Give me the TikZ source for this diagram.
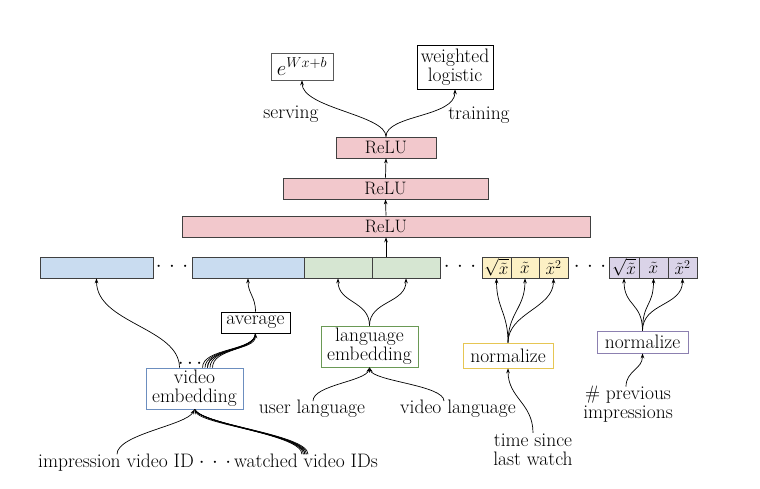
\documentclass[tikz,border=0pt]{standalone}
\usetikzlibrary{arrows.meta}
\definecolor{bluefill}{HTML}{C9DCF0}
\definecolor{greenfill}{HTML}{D6E6D2}
\definecolor{yellowfill}{HTML}{FCF0C4}
\definecolor{purplefill}{HTML}{DAD3E8}
\definecolor{pinkfill}{HTML}{F2C8CC}
\definecolor{blueline}{HTML}{6C8EBF}
\definecolor{greenline}{HTML}{6A9955}
\definecolor{yellowline}{HTML}{E6C653}
\definecolor{purpleline}{HTML}{8C80B0}
\newcommand\tdots{\ensuremath{\cdot}\hspace{7.5pt}\ensuremath{\cdot}\hspace{7.5pt}\ensuremath{\cdot}}
\begin{document}
\begin{tikzpicture}[x=1pt,y=-1pt,
  every node/.style={font=\fontsize{19.5}{19}\selectfont},
  cell/.style={draw=black!75, line width=0.7pt, minimum height=21pt, inner sep=0pt, font=\fontsize{17}{18}\selectfont},
  relu/.style={cell, fill=pinkfill, font=\fontsize{18}{18}\selectfont},
  box/.style={draw, line width=0.7pt, inner sep=1pt, align=center},
  txt/.style={inner sep=1pt, align=center},
  arr/.style={-{Stealth[length=5pt,width=3.6pt]}, line width=0.7pt},
  ln/.style={line width=0.7pt}]
\useasboundingbox (0,0) rectangle (760,488);

% feature row
\node[cell, fill=bluefill, minimum width=113pt] (b1) at (96.5,267.5) {};
\node[anchor=base] (d1) at (172,271.8) {\tdots};
\node[cell, fill=bluefill, minimum width=112pt] (b2) at (248,267.5) {};
\node[cell, fill=greenfill, minimum width=68pt] (g1) at (338,267.5) {};
\node[cell, fill=greenfill, minimum width=68pt] (g2) at (406,267.5) {};
\node[anchor=base] (d2) at (460,271.8) {\tdots};
\node[cell, fill=yellowfill, minimum width=29pt] (y1) at (496.5,267.5) {$\sqrt{\tilde x}$};
\node[cell, fill=yellowfill, minimum width=28pt] (y2) at (525,267.5) {$\tilde x$};
\node[cell, fill=yellowfill, minimum width=29pt] (y3) at (553.5,267.5) {$\tilde x^2$};
\node[anchor=base] (d3) at (590,271.8) {\tdots};
\node[cell, fill=purplefill, minimum width=30pt] (p1) at (624,267.5) {$\sqrt{\tilde x}$};
\node[cell, fill=purplefill, minimum width=29pt] (p2) at (653.5,267.5) {$\tilde x$};
\node[cell, fill=purplefill, minimum width=29pt] (p3) at (682.5,267.5) {$\tilde x^2$};

% ReLU stack
\node[relu, minimum width=408pt] (r1) at (386,226.5) {ReLU};
\node[relu, minimum width=205pt] (r2) at (385.5,188.5) {ReLU};
\node[relu, minimum width=100pt] (r3) at (386,147.5) {ReLU};

% outputs
\node[box, draw=black!65, minimum width=62pt, minimum height=27pt] (ex) at (302,66.5) {$e^{Wx+b}$};
\node[box, minimum width=76pt, minimum height=44pt] (wl) at (455,67) {weighted\\logistic};
\node[txt] (serv) at (291,114) {serving};
\node[txt] (train) at (479,115) {training};

% middle boxes
\node[box, minimum width=69pt, minimum height=21pt] (avg) at (255.5,322.5) {average};
\node[box, draw=blueline, minimum width=97pt, minimum height=41pt] (vemb) at (194.5,388.5) {video\\embedding};
\node[anchor=base, inner sep=0pt] (vdots) at (190,368.5) {$\cdots$};
\node[box, draw=greenline, minimum width=97pt, minimum height=41pt] (lemb) at (369.5,346.5) {language\\embedding};
\node[box, draw=yellowline, minimum width=90pt, minimum height=25pt] (ny) at (508,355.5) {normalize};
\node[box, draw=purpleline, minimum width=91pt, minimum height=22pt] (np) at (642.5,342) {normalize};

% inputs
\node[txt] (ul) at (312,409) {user language};
\node[txt] (vl) at (458,409) {video language};
\node[txt] (tsl) at (533,450) {time since\\last watch};
\node[txt] (prev) at (628,404) {\# previous\\impressions};
\node[txt, anchor=base] (imp) at (116,467) {impression video ID};
\node[anchor=base] (d4) at (215,467) {\tdots};
\node[txt, anchor=base] (wat) at (306,467) {watched video IDs};

% connectors: upper stack
\draw[arr] (r1.south |- g2.north) -- (r1.south);
\draw[arr] (r1.north) -- (r2.south);
\draw[arr] (r2.north) -- (r3.south);
\draw[arr] (r3.north) .. controls ([yshift=22]r3.north) and ([yshift=-28]ex.south) .. (ex.south);
\draw[arr] (r3.north) .. controls ([yshift=22]r3.north) and ([yshift=-28]wl.south) .. (wl.south);

% video embedding
\draw[arr] ([xshift=-15]vemb.north) .. controls ([xshift=-15,yshift=40]vemb.north) and ([yshift=-45]b1.south) .. (b1.south);
\foreach \s in {8,10.5,13,15.5,18}{
  \draw[ln] ([xshift=\s]vemb.north) .. controls ([xshift=\s,yshift=20]vemb.north) and ([yshift=-18]avg.south) .. (avg.south);
}
\draw[arr] ([xshift=13]vemb.north) .. controls ([xshift=13,yshift=20]vemb.north) and ([yshift=-18]avg.south) .. (avg.south);
\draw[arr] (avg.north) .. controls ([yshift=15]avg.north) and ([yshift=-15]b2.south) .. (b2.south);

% language
\draw[arr] (lemb.north) .. controls ([yshift=25]lemb.north) and ([yshift=-25]g1.south) .. (g1.south);
\draw[arr] (lemb.north) .. controls ([yshift=25]lemb.north) and ([yshift=-25]g2.south) .. (g2.south);
\draw[arr] ([xshift=1,yshift=-2]ul.north) .. controls ([xshift=1,yshift=14]ul.north) and ([xshift=-4,yshift=-14]lemb.south) .. (lemb.south);
\draw[arr] ([xshift=-14,yshift=-2]vl.north) .. controls ([xshift=-14,yshift=14]vl.north) and ([xshift=4,yshift=-14]lemb.south) .. (lemb.south);

% normalize yellow
\draw[arr] (ny.north) .. controls ([yshift=30]ny.north) and ([yshift=-30]y1.south) .. (y1.south);
\draw[arr] (ny.north) .. controls ([yshift=30]ny.north) and ([yshift=-30]y2.south) .. (y2.south);
\draw[arr] (ny.north) .. controls ([yshift=30]ny.north) and ([yshift=-30]y3.south) .. (y3.south);
\draw[arr] (tsl.north) .. controls ([yshift=30]tsl.north) and ([yshift=-30]ny.south) .. (ny.south);

% normalize purple
\draw[arr] (np.north) .. controls ([yshift=28]np.north) and ([yshift=-28]p1.south) .. (p1.south);
\draw[arr] (np.north) .. controls ([yshift=28]np.north) and ([yshift=-28]p2.south) .. (p2.south);
\draw[arr] (np.north) .. controls ([yshift=28]np.north) and ([yshift=-28]p3.south) .. (p3.south);
\draw[arr] ([xshift=-2,yshift=-2]prev.north) .. controls ([xshift=-2,yshift=14]prev.north) and ([yshift=-16]np.south) .. (np.south);

% bottom inputs to video embedding
\draw[arr] ([xshift=1,yshift=-2]imp.north) .. controls ([xshift=1,yshift=18]imp.north) and ([xshift=-8,yshift=-16]vemb.south) .. (vemb.south);
\foreach \s in {-4,-2.5,-1,0.5,2}{
  \draw[ln] ([xshift=\s,yshift=-2]wat.north) .. controls ([xshift=\s,yshift=18]wat.north) and ([xshift=8,yshift=-16]vemb.south) .. (vemb.south);
}
\draw[arr] ([xshift=-1,yshift=-2]wat.north) .. controls ([xshift=-1,yshift=18]wat.north) and ([xshift=8,yshift=-16]vemb.south) .. (vemb.south);
\end{tikzpicture}
\end{document}
